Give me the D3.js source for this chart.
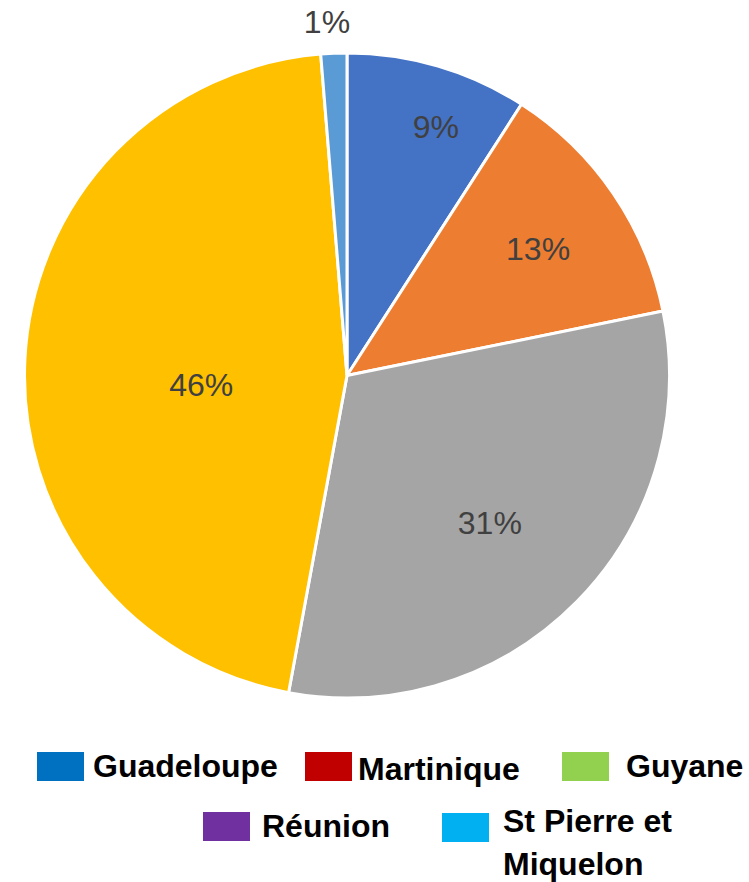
<!DOCTYPE html>
<html>
<head>
<meta charset="utf-8">
<script src="https://cdn.jsdelivr.net/npm/d3@7"></script>
<style>
  body { margin: 0; background: #fff; }
  svg { display: block; }
</style>
</head>
<body>
<svg id="chart"></svg>
<script>
// data (slice order clockwise from 12 o'clock)
const categories = ["Guadeloupe", "Martinique", "Guyane", "Réunion", "St Pierre et Miquelon"];
const values = [9.1, 12.7, 31.1, 45.8, 1.3];
const sliceColors = ["#4472C4", "#ED7D31", "#A5A5A5", "#FFC000", "#5B9BD5"];
// the legend swatches don't use the slice colours in the original
const legendColors = ["#0070C0", "#C00000", "#92D050", "#7030A0", "#00B0F0"];

// label placement: distance (fraction of radius) and angle shift from slice middle (deg)
const labelR = [0.819, 0.712, 0.636, 0.453, 1.098];
const labelShift = [3.3, 0.7, 1.4, -6.3, -0.9];

const width = 749;
const height = 882;
const cx = 347, cy = 375.5, radius = 322.5;

const svg = d3.select("#chart")
  .attr("width", width)
  .attr("height", height);

const pie = d3.pie().sort(null).value(d => d);
const arcs = pie(values);
const arc = d3.arc().innerRadius(0).outerRadius(radius);

const g = svg.append("g").attr("transform", `translate(${cx},${cy})`);

g.selectAll("path")
  .data(arcs)
  .join("path")
  .attr("d", arc)
  .attr("fill", (d, i) => sliceColors[i])
  .attr("stroke", "#fff")
  .attr("stroke-width", 3)
  .attr("stroke-linejoin", "round");

// percentage labels
g.selectAll("text.pct")
  .data(arcs)
  .join("text")
  .attr("class", "pct")
  .attr("transform", (d, i) => {
    const a = (d.startAngle + d.endAngle) / 2 + labelShift[i] * Math.PI / 180;
    const r = radius * labelR[i];
    return `translate(${Math.sin(a) * r},${-Math.cos(a) * r})`;
  })
  .attr("text-anchor", "middle")
  .attr("dy", "0.36em")
  .attr("font-family", "'Liberation Sans', Arial, sans-serif")
  .attr("font-size", 32)
  .attr("fill", "#404040")
  .text(d => Math.round(d.value) + "%");

// legend, laid out like the original (two rows, last entry wraps)
const legendPos = [
  { x: 37, y: 752, tx: 93, ty: 777 },
  { x: 305, y: 752, tx: 358, ty: 780 },
  { x: 562, y: 752, tx: 626, ty: 777 },
  { x: 203, y: 812, tx: 262, ty: 837 },
  { x: 442, y: 813, tx: 503, ty: 832 }
];

const legend = svg.append("g")
  .selectAll("g")
  .data(categories)
  .join("g");

legend.append("rect")
  .attr("x", (d, i) => legendPos[i].x)
  .attr("y", (d, i) => legendPos[i].y)
  .attr("width", 47)
  .attr("height", 29)
  .attr("fill", (d, i) => legendColors[i]);

legend.append("text")
  .attr("x", (d, i) => legendPos[i].tx)
  .attr("y", (d, i) => legendPos[i].ty)
  .attr("font-family", "'Liberation Sans', Arial, sans-serif")
  .attr("font-weight", "bold")
  .attr("font-size", 32)
  .attr("fill", "#000")
  .each(function(d, i) {
    const t = d3.select(this);
    if (i === 4) {
      t.append("tspan").text("St Pierre et");
      t.append("tspan").attr("x", legendPos[i].tx).attr("dy", 43).text("Miquelon");
    } else {
      t.text(d);
    }
  });
</script>
</body>
</html>
